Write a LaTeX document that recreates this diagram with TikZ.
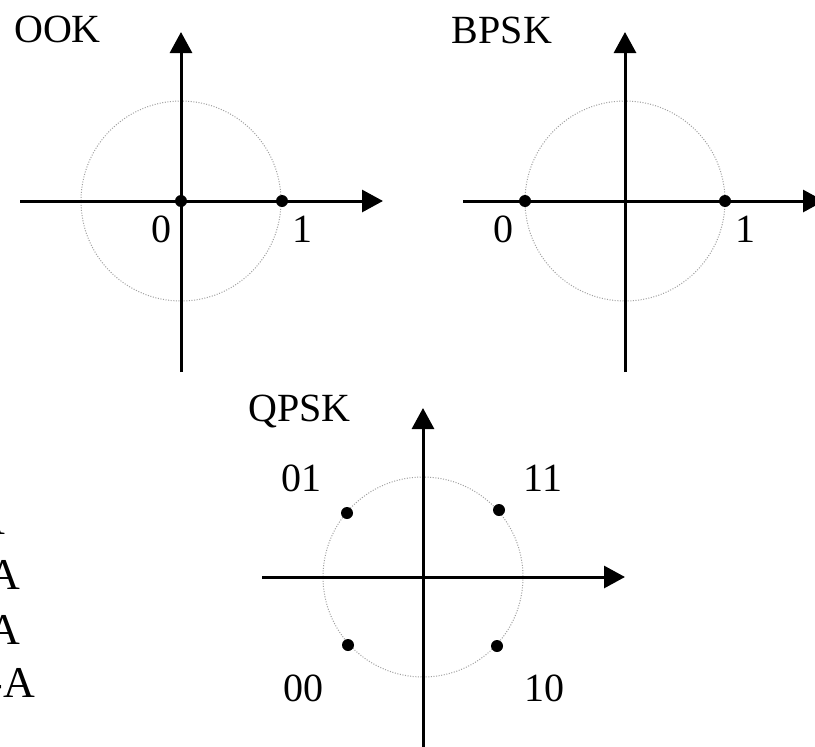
\documentclass[tikz,border=0pt]{standalone}
\usepackage{fontspec}
\setmainfont{Liberation Serif}
\usetikzlibrary{arrows.meta}
\begin{document}
\begin{tikzpicture}[x=1pt,y=-1pt,
  axis/.style={line width=3pt,-{Triangle[length=21pt,width=22pt]}},
  ring/.style={draw=gray!75,line width=1pt,dash pattern=on 1pt off 1.6pt},
  pt/.style={circle,fill=black,inner sep=0pt,minimum size=12pt},
  lbl/.style={inner sep=0pt,anchor=base,font=\fontsize{40}{48}\selectfont},
  side/.style={inner sep=0pt,anchor=base east,font=\fontsize{44}{52}\selectfont}]
\useasboundingbox (0,0) rectangle (815,747);
\clip (0,0) rectangle (815,747);
\fill[white] (0,0) rectangle (815,747);
% ---------- OOK ----------
\coordinate (o1b) at (181,372);
\coordinate (o1t) at (181,32);
\coordinate (o1l) at (20,201);
\coordinate (o1r) at (383,201);
\coordinate (o1c) at (181,201);
\draw[ring] (o1c) circle[radius=100];
\draw[axis] (o1b) -- (o1t);
\draw[axis] (o1l) -- (o1r);
\node[pt] (ook0) at (181,201) {};
\node[pt] (ook1) at (282,201) {};
\node[lbl] (ookT) at (57.5,42) {OOK};
\node[lbl] (ookL0) at (161,242) {0};
\node[lbl] (ookL1) at (302.5,242) {1};
% ---------- BPSK ----------
\coordinate (b1b) at (625,372);
\coordinate (b1t) at (625,32);
\coordinate (b1l) at (463,201);
\coordinate (b1r) at (824,201);
\coordinate (b1c) at (625,201);
\draw[ring] (b1c) circle[radius=100];
\draw[axis] (b1b) -- (b1t);
\draw[axis] (b1l) -- (b1r);
\node[pt] (bp0) at (525,201) {};
\node[pt] (bp1) at (725,201) {};
\node[lbl] (bpT) at (502,43) {BPSK};
\node[lbl] (bpL0) at (503,242) {0};
\node[lbl] (bpL1) at (745,242) {1};
% ---------- QPSK ----------
\coordinate (q1b) at (423,760);
\coordinate (q1t) at (423,408);
\coordinate (q1l) at (262,577);
\coordinate (q1r) at (625,577);
\coordinate (q1c) at (423,577);
\draw[ring] (q1c) circle[radius=100];
\draw[axis] (q1b) -- (q1t);
\draw[axis] (q1l) -- (q1r);
\node[pt] (q01) at (347,513) {};
\node[pt] (q11) at (499,510) {};
\node[pt] (q00) at (348,645) {};
\node[pt] (q10) at (497,646) {};
\node[lbl] (qT) at (299.5,421) {QPSK};
\node[lbl] (qL01) at (301,491) {01};
\node[lbl] (qL11) at (543,491) {11};
\node[lbl] (qL00) at (303,701) {00};
\node[lbl] (qL10) at (544,701) {10};
% ---------- cut-off text at left ----------
\node[side] (s1) at (5,534) {A};
\node[side] (s2) at (20,589) {A};
\node[side] (s3) at (20,644) {A};
\node[side] (s4) at (35,697) {-A};
\end{tikzpicture}
\end{document}
